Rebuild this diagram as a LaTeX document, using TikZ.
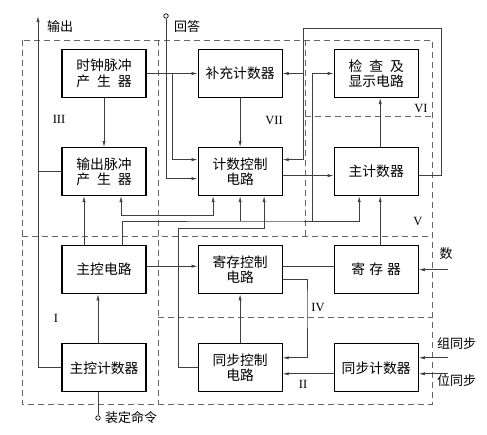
\documentclass[tikz,border=0pt]{standalone}
\usepackage{fontspec}
\setmainfont{Liberation Serif}
\newfontfamily\cjk{Noto Sans CJK SC}
\usepackage{tikz}
\usetikzlibrary{arrows.meta, positioning, calc}

\begin{document}
\begin{tikzpicture}[
    x=1pt, y=-1pt,
    block/.style={rectangle, draw=black, line width=1.1pt, minimum width=84pt, minimum height=48pt, inner sep=2pt, align=center, font=\cjk\fontsize{13.8}{15.5}\selectfont},
    wire/.style={draw=black!75, line width=0.7pt},
    arrow/.style={wire, -{Latex[length=6pt, width=3.2pt]}},
    darrow/.style={wire, {Latex[length=6pt, width=3.2pt]}-{Latex[length=6pt, width=3.2pt]}},
    region/.style={draw=black!60, line width=0.7pt, dash pattern=on 6pt off 4pt},
    zone/.style={font=\fontsize{12.5}{14}\selectfont, inner sep=0pt},
    lab/.style={font=\cjk\fontsize{13}{15}\selectfont, inner sep=0pt},
    term/.style={circle, draw=black, line width=0.7pt, fill=white, inner sep=0pt, minimum size=4.5pt},
  ]
  \useasboundingbox (0,0) rectangle (487,434);

  % Dashed regions
  \draw[region] (22,40) rectangle (432,404);
  \draw[region] (158,40) -- (158,404);
  \draw[region] (22,236) -- (432,236);
  \draw[region] (305,40) -- (305,236);
  \draw[region] (305,116) -- (432,116);
  \draw[region] (158,317) -- (432,317);

  \node[zone] (zIII) at (59,119) {III};
  \node[zone] (zVII) at (274,120) {VII};
  \node[zone] (zVI) at (421,108) {VI};
  \node[zone] (zV) at (418,221) {V};
  \node[zone] (zIV) at (318,307) {IV};
  \node[zone] (zII) at (303,384) {II};
  \node[zone] (zI) at (56,318) {I};

  % Left column
  \node[block] (clk) at (104,73.5) {时钟脉冲\\产\hspace{0.5em}生\hspace{0.5em}器};
  \node[block, below=49pt of clk] (outp) {输出脉冲\\产\hspace{0.5em}生\hspace{0.5em}器};
  \node[block, below=49pt of outp] (mctl) {主控电路};
  \node[block, below=49pt of mctl] (mcnt) {主控计数器};

  % Middle column
  \node[block, right=51pt of clk] (supp) {补充计数器};
  \node[block, right=51pt of outp] (cctl) {计数控制\\电路};
  \node[block, right=51pt of mctl] (rctl) {寄存控制\\电路};
  \node[block, right=51pt of mcnt] (sctl) {同步控制\\电路};

  % Right column
  \node[block, right=51pt of supp] (chk) {检\hspace{0.5em}查\hspace{0.5em}及\\显示电路};
  \node[block, right=51pt of cctl] (maincnt) {主计数器};
  \node[block, right=51pt of rctl] (reg) {寄\hspace{0.3em}存\hspace{0.3em}器};
  \node[block, right=51pt of sctl] (scnt) {同步计数器};

  % Terminals
  \coordinate (outtop) at (38,16);
  \node[lab, anchor=west] (outlab) at (47,27) {输出};
  \node[term] (ans) at (166,16) {};
  \node[lab, anchor=west] (anslab) at (174,27) {回答};
  \node[term] (setc) at (98,418) {};
  \node[lab, anchor=west] (setlab) at (105,418) {装定命令};
  \coordinate (datain) at ([xshift=29pt]reg.east);
  \node[lab] (datalab) at (446,254) {数};
  \coordinate (grpin) at ([shift={(29pt,10pt)}]scnt.east);
  \node[lab, anchor=west] (grplab) at (437,344) {组同步};
  \coordinate (bitin) at ([shift={(29pt,-6pt)}]scnt.east);
  \node[lab, anchor=west] (bitlab) at (437,381) {位同步};

  % Clock and answer
  \draw[arrow] (clk) -- (outp);
  \draw[arrow] (clk) -- (supp);
  \coordinate (clkbr) at ($(clk.east)!0.5!(supp.west)$);
  \draw[arrow] (clkbr) |- ([yshift=12pt]cctl.west);
  \draw[arrow] (ans) |- ([yshift=-7pt]cctl.west);
  \draw[arrow] (supp) -- (cctl);
  \draw[arrow] ([yshift=-4pt]cctl.east) -- ([yshift=-4pt]maincnt.west);

  % Feedback from main counter
  \coordinate (loopr) at (441,28);
  \coordinate (loopl) at (303,28);
  \draw[arrow] ([yshift=-4pt]maincnt.east) -| (loopr) -- (loopl) |- ([yshift=12pt]cctl.east);
  \draw[arrow] (loopl |- supp.east) -- (supp.east);
  \draw[arrow] ([xshift=4pt]maincnt.north) -- ([xshift=4pt]chk.south);

  % Bus from main control
  \coordinate (bus) at (250,221);
  \draw[arrow] ([xshift=18pt]mctl.north) |- (bus) -| ([xshift=-17pt]maincnt.south);
  \draw[arrow] (bus -| cctl.south) -- (cctl.south);
  \coordinate (chkin) at (312,221);
  \draw[arrow] (chkin) |- (chk.west);
  \draw[darrow] ([xshift=17pt]outp.south) -- ++(0,19.5) -| ([xshift=-27pt]cctl.south);
  \draw[arrow] ([xshift=-20pt]mctl.north) -- ([xshift=-20pt]outp.south);

  % Sync control to count control
  \coordinate (syncx) at (178,228);
  \draw[arrow] (sctl.west) -| (syncx) -| ([xshift=24pt]cctl.south);

  % Output line
  \draw[arrow] (mcnt.west) -| (outtop);
  \draw[wire] (outp.west) -- (outp.west -| outtop);
  \draw[arrow] ([xshift=-6pt]mcnt.north) -- ([xshift=-6pt]mctl.south);
  \draw[wire] (setc) -- (setc |- mcnt.south);

  % Register and sync
  \draw[arrow] ([yshift=3.5pt]mctl.east) -- ([yshift=3.5pt]rctl.west);
  \draw[wire] ([yshift=3pt]rctl.east) -- ([yshift=3pt]reg.west);
  \coordinate (rsx) at (307,300);
  \draw[arrow] ([yshift=-10pt]rctl.east) -| (rsx) |- ([yshift=10pt]sctl.east);
  \draw[arrow] (sctl) -- (rctl);
  \draw[arrow] ([yshift=-6pt]scnt.west) -- ([yshift=-6pt]sctl.east);
  \draw[arrow] ([xshift=4pt]reg.north) -- ([xshift=4pt]maincnt.south);
  \draw[arrow] (datain) -- (reg.east);
  \draw[arrow] (grpin) -- (grpin -| scnt.east);
  \draw[arrow] (bitin) -- (bitin -| scnt.east);

\end{tikzpicture}
\end{document}
